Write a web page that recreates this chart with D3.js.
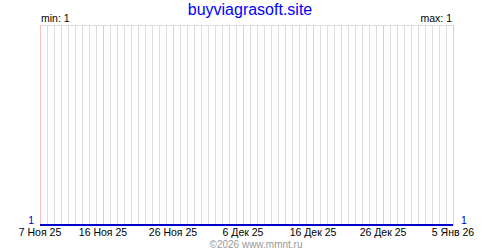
<!DOCTYPE html>
<html>
<head>
<meta charset="utf-8">
<script src="https://cdn.jsdelivr.net/npm/d3@7"></script>
<style>
  body { margin: 0; background: #fff; }
  svg { display: block; }
  text { font-family: "Liberation Sans", Arial, sans-serif; }
</style>
</head>
<body>
<svg id="chart" width="500" height="250"></svg>
<script>
var title = "buyviagrasoft.site";
var startDay = "2025-11-07";
var endDay = "2026-01-05";
// one value per day, 7 Nov 2025 .. 5 Jan 2026
var values = [1,1,1,1,1,1,1,1,1,1, 1,1,1,1,1,1,1,1,1,1,
              1,1,1,1,1,1,1,1,1,1, 1,1,1,1,1,1,1,1,1,1,
              1,1,1,1,1,1,1,1,1,1, 1,1,1,1,1,1,1,1,1,1];
var tickDays = ["2025-11-07","2025-11-16","2025-11-26","2025-12-06","2025-12-16","2025-12-26","2026-01-05"];
var tickLabels = ["7 Ноя 25","16 Ноя 25","26 Ноя 25","6 Дек 25","16 Дек 25","26 Дек 25","5 Янв 26"];
var copyright = "©2026 www.mmnt.ru";

var parse = d3.utcParse("%Y-%m-%d");
var svg = d3.select("#chart");
var m = {top: 25, right: 47, bottom: 25, left: 40},
    w = 500, h = 250;

var x = d3.scaleUtc()
  .domain([parse(startDay), parse(endDay)])
  .range([m.left, w - m.right]);
var y = d3.scaleLinear()
  .domain([1, 2])
  .range([h - m.bottom, m.top]);

var days = d3.utcDay.range(parse(startDay), d3.utcDay.offset(parse(endDay), 1));
var data = days.map(function(d, i) { return {date: d, value: values[i]}; });

// daily grid
svg.append("g").selectAll("line")
  .data(days)
  .enter().append("line")
  .attr("x1", function(d) { return Math.round(x(d)) + 0.5; })
  .attr("x2", function(d) { return Math.round(x(d)) + 0.5; })
  .attr("y1", m.top)
  .attr("y2", h - m.bottom)
  .attr("stroke", "#dddddd")
  .attr("stroke-width", 1);

// top border
svg.append("line")
  .attr("x1", m.left).attr("x2", w - m.right + 1)
  .attr("y1", m.top + 0.5).attr("y2", m.top + 0.5)
  .attr("stroke", "#dddddd");

// labelled days in pink
svg.append("g").selectAll("line")
  .data(tickDays)
  .enter().append("line")
  .attr("x1", function(d) { return Math.round(x(parse(d))) + 0.5; })
  .attr("x2", function(d) { return Math.round(x(parse(d))) + 0.5; })
  .attr("y1", m.top)
  .attr("y2", h - m.bottom)
  .attr("stroke", "#ffc0c0");

// series
var line = d3.line()
  .x(function(d) { return x(d.date); })
  .y(function(d) { return Math.round(y(d.value)); });
svg.append("path")
  .datum(data)
  .attr("d", line)
  .attr("fill", "none")
  .attr("stroke", "#0000cc")
  .attr("stroke-width", 2);

// x labels
svg.append("g").selectAll("text")
  .data(tickDays)
  .enter().append("text")
  .attr("x", function(d) { return x(parse(d)); })
  .attr("y", 236)
  .attr("text-anchor", "middle")
  .attr("font-size", "10.5px")
  .attr("fill", "#000")
  .text(function(d, i) { return tickLabels[i]; });

var first = values[0], last = values[values.length - 1];
svg.append("text")
  .attr("x", m.left - 6).attr("y", y(first) - 1)
  .attr("text-anchor", "end")
  .attr("font-size", "10.5px")
  .attr("fill", "#0000cc")
  .text(first);
svg.append("text")
  .attr("x", w - m.right + 8).attr("y", y(last) - 1)
  .attr("font-size", "10.5px")
  .attr("fill", "#0000cc")
  .text(last);

svg.append("text")
  .attr("x", m.left + 1).attr("y", 22)
  .attr("font-size", "10.5px")
  .text("min: " + d3.min(values));
svg.append("text")
  .attr("x", w - m.right - 1).attr("y", 22)
  .attr("text-anchor", "end")
  .attr("font-size", "10.5px")
  .text("max: " + d3.max(values));

svg.append("text")
  .attr("x", 250).attr("y", 15)
  .attr("text-anchor", "middle")
  .attr("font-size", "16px")
  .attr("fill", "#0000ff")
  .text(title);

svg.append("text")
  .attr("x", 256).attr("y", 248)
  .attr("text-anchor", "middle")
  .attr("font-size", "10px")
  .attr("fill", "#999")
  .text(copyright);
</script>
</body>
</html>
